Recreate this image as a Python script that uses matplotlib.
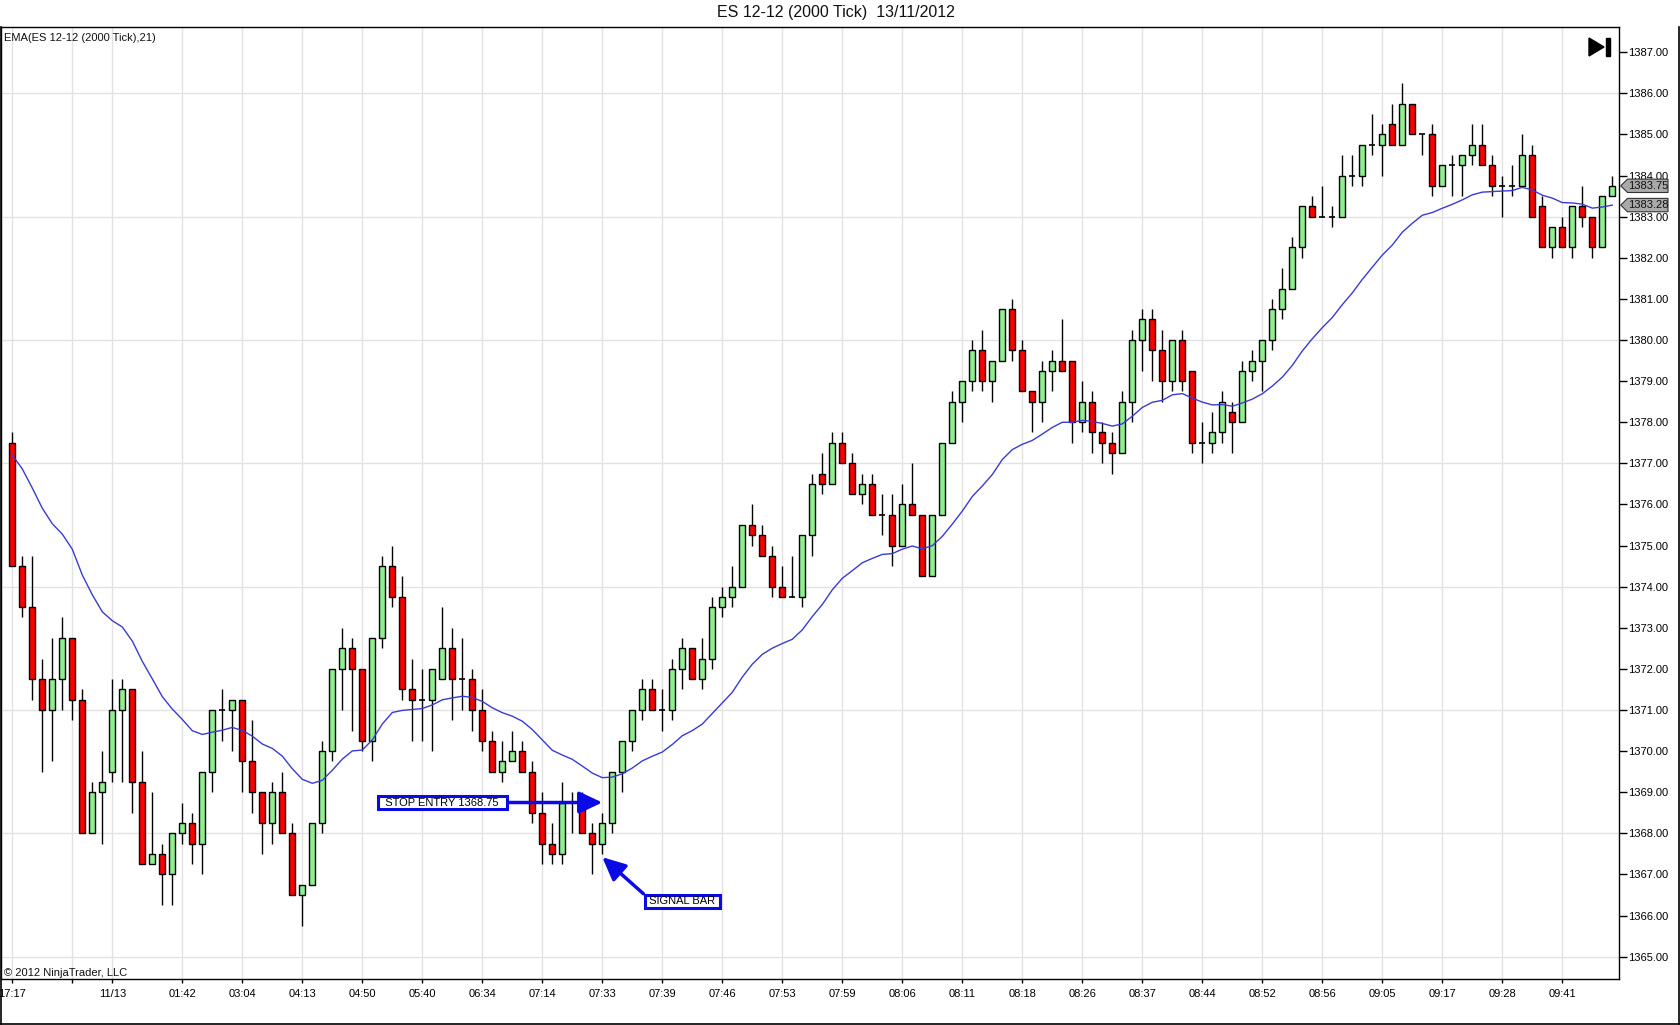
import numpy as np
import matplotlib
matplotlib.use("Agg")
from matplotlib import pyplot as plt
from matplotlib.patches import Polygon, Rectangle
from matplotlib.lines import Line2D
from matplotlib.transforms import IdentityTransform

plt.rcParams['font.family'] = ['Liberation Sans', 'DejaVu Sans']

# bar data (2000 tick bars, ES 12-12)
opens = [1377.5, 1374.5, 1373.5, 1371.75, 1371, 1371.75, 1372.75, 1371.25, 1368, 1369,
         1369.5, 1371, 1371.5, 1369.25, 1367.25, 1367.5, 1367, 1368, 1368.25, 1367.75,
         1369.5, 1371, 1371, 1371.25, 1369.75, 1369, 1368.25, 1369, 1368, 1366.5,
         1366.75, 1368.25, 1370, 1372, 1372.5, 1372, 1370.25, 1372.75, 1374.5, 1373.75,
         1371.5, 1371.25, 1371.25, 1371.75, 1372.5, 1371.75, 1371.75, 1371, 1370.25, 1369.5,
         1369.75, 1370, 1369.5, 1368.5, 1367.75, 1367.5, 1368.75, 1368.75, 1368, 1367.75,
         1368.25, 1369.5, 1370.25, 1371, 1371.5, 1371, 1371, 1372, 1372.5, 1371.75,
         1372.25, 1373.5, 1373.75, 1374, 1375.5, 1375.25, 1374.75, 1374, 1373.75, 1373.75,
         1375.25, 1376.75, 1376.5, 1377.5, 1377, 1376.25, 1376.5, 1375.75, 1375.75, 1375,
         1376, 1375.75, 1374.25, 1375.75, 1377.5, 1378.5, 1379, 1379.75, 1379, 1379.5,
         1380.75, 1379.75, 1378.75, 1378.5, 1379.25, 1379.5, 1379.5, 1378, 1378.5, 1377.75,
         1377.5, 1377.25, 1378.5, 1380, 1380.5, 1379.75, 1379, 1380, 1379.25, 1377.5,
         1377.5, 1377.75, 1378.25, 1378, 1379.25, 1379.5, 1380, 1380.75, 1381.25, 1382.25,
         1383.25, 1383, 1383, 1383, 1384, 1384, 1384.75, 1384.75, 1385.25, 1384.75,
         1385.75, 1385, 1385, 1383.75, 1384.25, 1384.25, 1384.5, 1384.75, 1384.25, 1383.75,
         1383.75, 1383.75, 1384.5, 1383.25, 1382.25, 1382.75, 1382.25, 1383.25, 1383, 1382.25,
         1383.5]
highs = [1377.75, 1374.75, 1374.75, 1372.25, 1372.75, 1373.25, 1372.75, 1371.5, 1369.25, 1370,
         1371.75, 1371.75, 1371.5, 1370, 1369, 1367.75, 1368, 1368.75, 1368.5, 1369.5,
         1371, 1371.5, 1371.25, 1371.25, 1370.75, 1369, 1369.25, 1369.5, 1368.25, 1366.75,
         1368.25, 1370.25, 1372, 1373, 1372.75, 1372, 1372.75, 1374.75, 1375, 1374.25,
         1372.25, 1372, 1372, 1373.5, 1373, 1372.75, 1372, 1371.5, 1370.5, 1370.25,
         1370.5, 1370.25, 1369.75, 1369, 1368.25, 1369.25, 1369, 1369, 1368.25, 1368.5,
         1369.5, 1370.25, 1371, 1371.75, 1371.75, 1371.5, 1372.25, 1372.75, 1372.5, 1372.75,
         1373.75, 1374, 1374.5, 1375.5, 1376, 1375.5, 1375, 1374.5, 1374.75, 1375.25,
         1376.75, 1377.25, 1377.75, 1377.75, 1377.25, 1376.75, 1376.75, 1376.25, 1376.25, 1376.5,
         1377, 1375.75, 1375.75, 1377.5, 1378.75, 1379, 1380, 1380.25, 1379.5, 1380.75,
         1381, 1380, 1378.75, 1379.5, 1379.75, 1380.5, 1379.5, 1379, 1378.75, 1378,
         1377.75, 1378.75, 1380.25, 1380.75, 1380.75, 1380.25, 1380, 1380.25, 1379.25, 1378,
         1378.25, 1378.75, 1378.5, 1379.5, 1379.75, 1380, 1381, 1381.75, 1382.5, 1383.25,
         1383.5, 1383.75, 1383.25, 1384.5, 1384.5, 1384.75, 1385.5, 1385.25, 1385.75, 1386.25,
         1385.75, 1385, 1385.25, 1384.25, 1384.5, 1384.5, 1385.25, 1385.25, 1384.5, 1384,
         1384.25, 1385, 1384.75, 1383.5, 1382.75, 1383, 1383.25, 1383.75, 1383, 1383.5,
         1384]
lows = [1374.5, 1373.25, 1371.25, 1369.5, 1369.75, 1371, 1370.75, 1368, 1368, 1367.75,
        1369.25, 1369.25, 1368.5, 1367.25, 1367.25, 1366.25, 1366.25, 1367.75, 1367.25, 1367,
        1369, 1370.25, 1370, 1369, 1368.5, 1367.5, 1367.75, 1368, 1366.5, 1365.75,
        1366.75, 1368, 1369.75, 1371, 1370.5, 1370, 1369.75, 1372.5, 1373.5, 1371.25,
        1370.25, 1370.25, 1370, 1371.75, 1370.75, 1371, 1370.5, 1370, 1369.5, 1369.25,
        1369.75, 1369.5, 1368.25, 1367.25, 1367.25, 1367.25, 1368, 1368, 1367, 1367.5,
        1368, 1369, 1370, 1370.75, 1371, 1370.5, 1370.75, 1371.5, 1371.75, 1371.5,
        1372, 1373.25, 1373.5, 1374, 1375, 1374.75, 1373.75, 1373.75, 1373.75, 1373.5,
        1374.75, 1376.25, 1376.5, 1377, 1376.25, 1376, 1375.75, 1375.25, 1374.5, 1375,
        1375.75, 1374.25, 1374.25, 1375.75, 1377.5, 1378, 1378.75, 1378.75, 1378.5, 1379.5,
        1379.5, 1378.75, 1377.75, 1378, 1378.75, 1379.25, 1377.5, 1377.75, 1377.25, 1377,
        1376.75, 1377.25, 1378, 1379.25, 1379, 1378.5, 1378.75, 1378.75, 1377.25, 1377,
        1377.25, 1377.5, 1377.25, 1378, 1379, 1378.75, 1379.75, 1380.5, 1381.25, 1382,
        1383, 1383, 1382.75, 1383, 1383.75, 1383.75, 1384.5, 1384, 1384.75, 1384.75,
        1385, 1384.5, 1383.5, 1383.75, 1383.5, 1383.5, 1384.25, 1384.25, 1383.5, 1383,
        1383.5, 1383.75, 1383, 1382.25, 1382, 1382.25, 1382, 1382.75, 1382, 1382.25,
        1383.5]
closes = [1374.5, 1373.5, 1371.75, 1371, 1371.75, 1372.75, 1371.25, 1368, 1369, 1369.25,
          1371, 1371.5, 1369.25, 1367.25, 1367.5, 1367, 1368, 1368.25, 1367.75, 1369.5,
          1371, 1371, 1371.25, 1369.75, 1369, 1368.25, 1369, 1368, 1366.5, 1366.75,
          1368.25, 1370, 1372, 1372.5, 1372, 1370.25, 1372.75, 1374.5, 1373.75, 1371.5,
          1371.25, 1371.25, 1372, 1372.5, 1371.75, 1371.75, 1371, 1370.25, 1369.5, 1369.75,
          1370, 1369.5, 1368.5, 1367.75, 1367.5, 1368.75, 1368.75, 1368, 1367.75, 1368.25,
          1369.5, 1370.25, 1371, 1371.5, 1371, 1371, 1372, 1372.5, 1371.75, 1372.25,
          1373.5, 1373.75, 1374, 1375.5, 1375.25, 1374.75, 1374, 1373.75, 1373.75, 1375.25,
          1376.5, 1376.5, 1377.5, 1377, 1376.25, 1376.5, 1375.75, 1375.75, 1375, 1376,
          1375.75, 1374.25, 1375.75, 1377.5, 1378.5, 1379, 1379.75, 1379, 1379.5, 1380.75,
          1379.75, 1378.75, 1378.5, 1379.25, 1379.5, 1379.25, 1378, 1378.5, 1377.75, 1377.5,
          1377.25, 1378.5, 1380, 1380.5, 1379.75, 1379, 1380, 1379, 1377.5, 1377.5,
          1377.75, 1378.5, 1378, 1379.25, 1379.5, 1380, 1380.75, 1381.25, 1382.25, 1383.25,
          1383, 1383, 1383, 1384, 1384, 1384.75, 1384.75, 1385, 1384.75, 1385.75,
          1385, 1385, 1383.75, 1384.25, 1384.25, 1384.5, 1384.75, 1384.25, 1383.75, 1383.75,
          1383.75, 1384.5, 1383, 1382.25, 1382.75, 1382.25, 1383.25, 1383, 1382.25, 1383.5,
          1383.75]

# EMA(21) of the closes, starting from the value shown on the first bar
ema_period = 21
ema_start = 1377.2

# time axis labels: bar index -> label
tick_bars = [0, 6, 10, 17, 23, 29, 35, 41, 47, 53, 59, 65, 71, 77, 83, 89, 95, 101,
             107, 113, 119, 125, 131, 137, 143, 149, 155]
tick_labels = ['17:17', '', '11/13', '01:42', '03:04', '04:13', '04:50', '05:40', '06:34',
               '07:14', '07:33', '07:39', '07:46', '07:53', '07:59', '08:06', '08:11',
               '08:18', '08:26', '08:37', '08:44', '08:52', '08:56', '09:05', '09:17',
               '09:28', '09:41']

entry_price = 1368.75
entry_bar = 59
signal_tip = (59, 1367.42)

W, H = 1680, 1025
fig = plt.figure(figsize=(W / 100, H / 100), dpi=100)
fig.patch.set_facecolor('white')
ax = fig.add_axes([0.5 / W, (H - 979.3) / H, (1619.3 - 0.5) / W, (979.3 - 27.3) / H])

n = len(closes)
x = np.arange(n)
o = np.array(opens)
c = np.array(closes)
hi = np.array(highs)
lo = np.array(lows)

alpha = 2.0 / (ema_period + 1)
ema = [ema_start]
for v in closes[1:]:
    ema.append(ema[-1] + alpha * (v - ema[-1]))
ema = np.array(ema)

# grid
grid_col = '#e2e2e2'
for b in tick_bars:
    ax.axvline(b, color=grid_col, lw=1, zorder=0)
for p in range(1365, 1388, 3):
    ax.axhline(p, color=grid_col, lw=1, zorder=0)

# candles
ax.vlines(x, lo, hi, color='black', lw=1, zorder=2)
up = c > o
down = c < o
flat = c == o
bw = 0.62
ax.bar(x[up], (c - o)[up], bottom=o[up], width=bw, color='#90ee90',
       edgecolor='black', linewidth=1, zorder=3)
ax.bar(x[down], (o - c)[down], bottom=c[down], width=bw, color='#ff0000',
       edgecolor='black', linewidth=1, zorder=3)
ax.hlines(o[flat], x[flat] - bw / 2, x[flat] + bw / 2, color='black', lw=1.2, zorder=3)

ax.plot(x, ema, color='#3a3ad6', lw=1, zorder=4)

ax.set_xlim(-1.18, 160.7)
ax.set_ylim(1364.45, 1387.605)

ax.set_xticks(tick_bars)
ax.set_xticklabels(tick_labels)
ax.set_yticks(np.arange(1365, 1388, 1))
ax.set_yticklabels(['%.2f' % v for v in range(1365, 1388)])
ax.yaxis.tick_right()
ax.tick_params(axis='x', direction='out', length=3, width=1, pad=4, labelsize=8, colors='black')
ax.tick_params(axis='y', direction='out', length=5.5, width=1, pad=1, labelsize=8, colors='black')
for s in ax.spines.values():
    s.set_color('black')
    s.set_linewidth(1)

# texts
fig.text(836 / W, 1 - 13 / H, 'ES 12-12 (2000 Tick)  13/11/2012', ha='center', va='center',
         fontsize=11.5, color='#111111')
ax.text(3 / W * W / (1619.3 - 0.5) * 0 + 0.002, 1 - 11 / (979.3 - 27.3), 'EMA(ES 12-12 (2000 Tick),21)',
        transform=ax.transAxes, ha='left', va='center', fontsize=8, color='#111111')
ax.text(0.002, 6.5 / (979.3 - 27.3), '\u00a9 2012 NinjaTrader, LLC', transform=ax.transAxes,
        ha='left', va='center', fontsize=8, color='#111111')

blue = '#0a0ae6'
ax.annotate('  STOP ENTRY %.2f  ' % entry_price, xy=(entry_bar, entry_price), xytext=(-160, 0),
            textcoords='offset pixels', ha='center', va='center', fontsize=8, zorder=6,
            bbox=dict(boxstyle='square,pad=0.15', fc='white', ec=blue, lw=2.2),
            arrowprops=dict(arrowstyle='-|>,head_length=0.7,head_width=0.33', color=blue,
                            lw=2.5, shrinkA=0, shrinkB=0, relpos=(1, 0.5), mutation_scale=20))
ax.annotate(' SIGNAL BAR ', xy=signal_tip, xytext=(80, -44),
            textcoords='offset pixels', ha='center', va='center', fontsize=8, zorder=6,
            bbox=dict(boxstyle='square,pad=0.15', fc='white', ec=blue, lw=2.2),
            arrowprops=dict(arrowstyle='-|>,head_length=0.7,head_width=0.33', color=blue,
                            lw=2.5, shrinkA=0, shrinkB=0, relpos=(0, 1), mutation_scale=20))

# outer frame
for xs, ys in [([0.5, 0.5], [H - 27.3, 1.0]), ([0.5, W - 1], [1.0, 1.0]), ([W - 1, W - 1], [1.0, H - 27.3])]:
    fig.add_artist(Line2D(xs, ys, transform=IdentityTransform(), color='black', lw=1.2))

# go-to-end icon
ident = IdentityTransform()
fig.add_artist(Polygon([(1589, H - 38), (1589, H - 56), (1604, H - 47)], closed=True,
                       transform=ident, color='black', zorder=10))
fig.add_artist(Rectangle((1606, H - 56), 4, 18, transform=ident, color='black', zorder=10))

# last price / last EMA markers
fig.canvas.draw()
for val in [closes[-1], ema[-1]]:
    yd = ax.transData.transform((0, val))[1]
    pts = [(1620.7, yd), (1627.5, yd + 6.7), (1668, yd + 6.7), (1668, yd - 6.7), (1627.5, yd - 6.7)]
    fig.add_artist(Polygon(pts, closed=True, transform=ident, fc='#a9a9a9', ec='#333333',
                           lw=0.8, zorder=10))
    fig.text(1648 / W, yd / H, '%.2f' % val, ha='center', va='center', fontsize=8,
             color='#111111', zorder=11)

fig.savefig('out.png', dpi=100)
